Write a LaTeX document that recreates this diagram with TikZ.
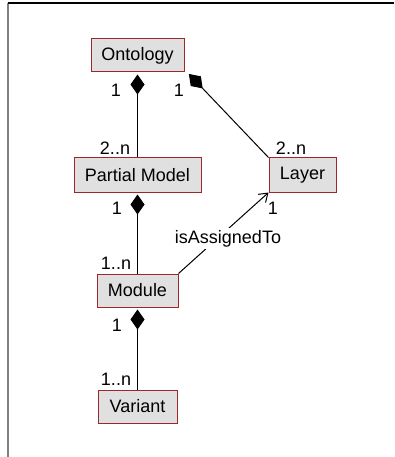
\documentclass[tikz,border=0pt]{standalone}
\usepackage{fontspec}
\setmainfont{Liberation Sans}
\usetikzlibrary{arrows.meta}
\definecolor{boxred}{RGB}{153,40,40}
\definecolor{boxfill}{RGB}{224,224,224}
\definecolor{framegray}{RGB}{128,128,128}
\begin{document}
\begin{tikzpicture}[x=1pt,y=-1pt,
  cls/.style={draw=boxred,fill=boxfill,line width=1pt,inner sep=0pt,minimum height=33pt,font=\fontsize{18}{20}\selectfont},
  mult/.style={inner sep=0pt,font=\fontsize{18}{20}\selectfont},
  comp/.style={{Diamond[length=20pt,width=14pt]}-,line width=1pt,shorten <=2pt},
  assoc/.style={-{Straight Barb[length=8pt,width=11pt,line width=1pt]},line width=1pt}]
\useasboundingbox (0,0) rectangle (395,457);
\draw[framegray,line width=1.6pt] (8,3) -- (8,457);
\draw[black,line width=1.2pt] (8,3) -- (394,3);
\node[cls,minimum width=93pt] (onto) at (137.5,55.5) {Ontology};
\node[cls,minimum width=127pt,minimum height=34pt] (pm) at (137.5,175) {Partial Model};
\node[cls,minimum width=67pt,minimum height=34pt] (layer) at (302.5,175) {Layer};
\node[cls,minimum width=81pt] (mod) at (137.5,290.5) {Module};
\node[cls,minimum width=79pt] (var) at (137.5,406.5) {Variant};
\draw[comp] (onto.south) -- (pm.north);
\draw[comp] ([shift={(3pt,0pt)}]onto.south east) -- (layer.north west);
\draw[comp] (pm.south) -- (mod.north);
\draw[comp] (mod.south) -- (var.north);
\draw[assoc] (mod.north east) -- (layer.south west);
\node[fill=white,inner sep=2pt,font=\fontsize{18}{20}\selectfont] (lab) at (228,238.5) {isAssignedTo};
\node[mult] (m1) at (116,90) {1};
\node[mult] (m2) at (179,90) {1};
\node[mult] (m3) at (115,148) {2..n};
\node[mult] (m4) at (291,148) {2..n};
\node[mult] (m5) at (117,208) {1};
\node[mult] (m6) at (116,263) {1..n};
\node[mult] (m7) at (273,208) {1};
\node[mult] (m8) at (117,325) {1};
\node[mult] (m9) at (116,379) {1..n};
\end{tikzpicture}
\end{document}
